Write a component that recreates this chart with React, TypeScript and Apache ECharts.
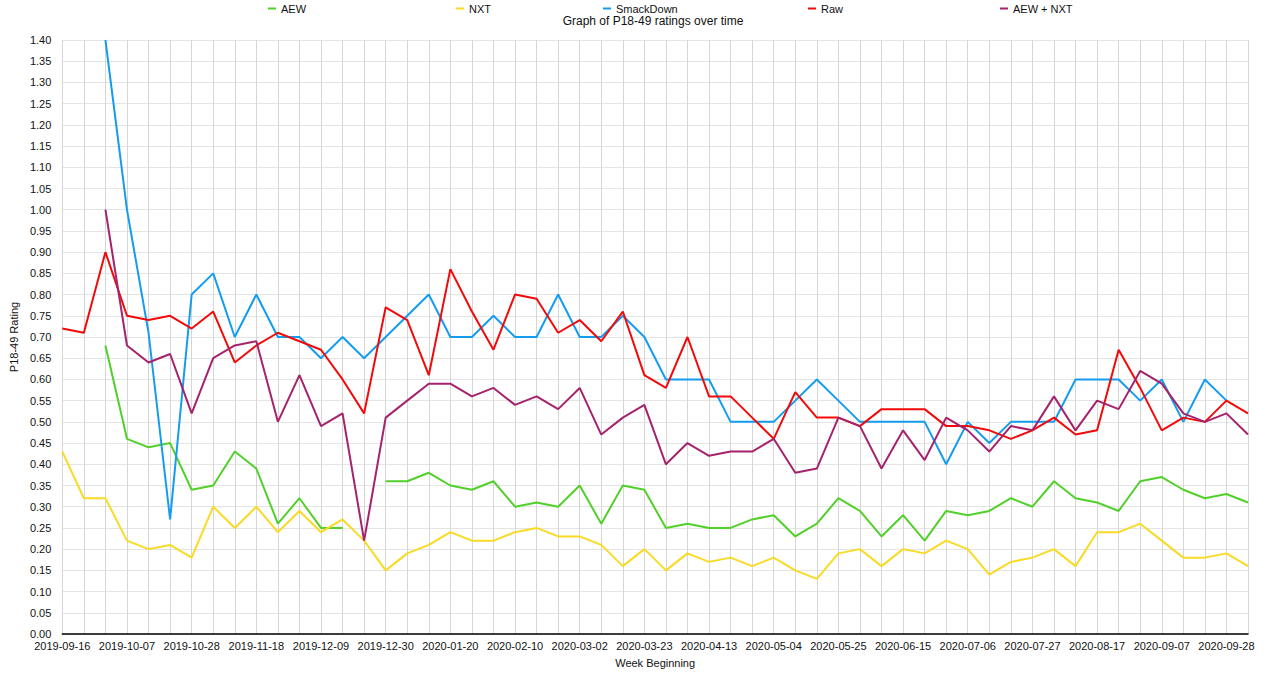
import React, { useEffect, useRef } from "react";
import * as echarts from "echarts";

const weeks = [
  "2019-09-16", "2019-09-23", "2019-09-30", "2019-10-07", "2019-10-14", "2019-10-21", "2019-10-28",
  "2019-11-04", "2019-11-11", "2019-11-18", "2019-11-25", "2019-12-02", "2019-12-09", "2019-12-16",
  "2019-12-23", "2019-12-30", "2020-01-06", "2020-01-13", "2020-01-20", "2020-01-27", "2020-02-03",
  "2020-02-10", "2020-02-17", "2020-02-24", "2020-03-02", "2020-03-09", "2020-03-16", "2020-03-23",
  "2020-03-30", "2020-04-06", "2020-04-13", "2020-04-20", "2020-04-27", "2020-05-04", "2020-05-11",
  "2020-05-18", "2020-05-25", "2020-06-01", "2020-06-08", "2020-06-15", "2020-06-22", "2020-06-29",
  "2020-07-06", "2020-07-13", "2020-07-20", "2020-07-27", "2020-08-03", "2020-08-10", "2020-08-17",
  "2020-08-24", "2020-08-31", "2020-09-07", "2020-09-14", "2020-09-21", "2020-09-28", "2020-10-05",
];

const aew = [
  null, null, 0.68, 0.46, 0.44, 0.45, 0.34, 0.35, 0.43, 0.39,
  0.26, 0.32, 0.25, 0.25, null, 0.36, 0.36, 0.38, 0.35, 0.34,
  0.36, 0.30, 0.31, 0.30, 0.35, 0.26, 0.35, 0.34, 0.25, 0.26,
  0.25, 0.25, 0.27, 0.28, 0.23, 0.26, 0.32, 0.29, 0.23, 0.28,
  0.22, 0.29, 0.28, 0.29, 0.32, 0.30, 0.36, 0.32, 0.31, 0.29,
  0.36, 0.37, 0.34, 0.32, 0.33, 0.31,
];

const nxt = [
  0.43, 0.32, 0.32, 0.22, 0.20, 0.21, 0.18, 0.30, 0.25, 0.30,
  0.24, 0.29, 0.24, 0.27, 0.22, 0.15, 0.19, 0.21, 0.24, 0.22,
  0.22, 0.24, 0.25, 0.23, 0.23, 0.21, 0.16, 0.20, 0.15, 0.19,
  0.17, 0.18, 0.16, 0.18, 0.15, 0.13, 0.19, 0.20, 0.16, 0.20,
  0.19, 0.22, 0.20, 0.14, 0.17, 0.18, 0.20, 0.16, 0.24, 0.24,
  0.26, 0.22, 0.18, 0.18, 0.19, 0.16,
];

const smackdown = [
  null, null, 1.40, 1.00, 0.71, 0.27, 0.80, 0.85, 0.70, 0.80,
  0.70, 0.70, 0.65, 0.70, 0.65, 0.70, 0.75, 0.80, 0.70, 0.70,
  0.75, 0.70, 0.70, 0.80, 0.70, 0.70, 0.75, 0.70, 0.60, 0.60,
  0.60, 0.50, 0.50, 0.50, 0.55, 0.60, 0.55, 0.50, 0.50, 0.50,
  0.50, 0.40, 0.50, 0.45, 0.50, 0.50, 0.50, 0.60, 0.60, 0.60,
  0.55, 0.60, 0.50, 0.60, 0.55, null,
];

const raw = [
  0.72, 0.71, 0.90, 0.75, 0.74, 0.75, 0.72, 0.76, 0.64, 0.68,
  0.71, 0.69, 0.67, 0.60, 0.52, 0.77, 0.74, 0.61, 0.86, 0.76,
  0.67, 0.80, 0.79, 0.71, 0.74, 0.69, 0.76, 0.61, 0.58, 0.70,
  0.56, 0.56, 0.51, 0.46, 0.57, 0.51, 0.51, 0.49, 0.53, 0.53,
  0.53, 0.49, 0.49, 0.48, 0.46, 0.48, 0.51, 0.47, 0.48, 0.67,
  0.58, 0.48, 0.51, 0.50, 0.55, 0.52,
];

const aewPlusNxt = [
  null, null, 1.00, 0.68, 0.64, 0.66, 0.52, 0.65, 0.68, 0.69,
  0.50, 0.61, 0.49, 0.52, 0.22, 0.51, 0.55, 0.59, 0.59, 0.56,
  0.58, 0.54, 0.56, 0.53, 0.58, 0.47, 0.51, 0.54, 0.40, 0.45,
  0.42, 0.43, 0.43, 0.46, 0.38, 0.39, 0.51, 0.49, 0.39, 0.48,
  0.41, 0.51, 0.48, 0.43, 0.49, 0.48, 0.56, 0.48, 0.55, 0.53,
  0.62, 0.59, 0.52, 0.50, 0.52, 0.47,
];

const seriesNames = ["AEW", "NXT", "SmackDown", "Raw", "AEW + NXT"];
const seriesData = [aew, nxt, smackdown, raw, aewPlusNxt];
const seriesColors = ["#52d02a", "#f9da24", "#149cf0", "#f20a0a", "#a5236c"];
const legendLeft = [268, 456, 603, 808, 1000];

const FONT = "'Liberation Sans', Arial, Helvetica, sans-serif";

export default function App() {
  const ref = useRef<HTMLDivElement>(null);

  useEffect(() => {
    document.body.style.margin = "0";
    const chart = echarts.init(ref.current!, null, { renderer: "svg" });
    chart.setOption({
      animation: false,
      backgroundColor: "#ffffff",
      textStyle: { fontFamily: FONT },
      title: {
        text: "Graph of P18-49 ratings over time",
        left: 653,
        textAlign: "center",
        top: 15,
        padding: 0,
        textStyle: { fontSize: 12, fontWeight: "normal", color: "#111", fontFamily: FONT },
      },
      legend: seriesNames.map((n, i) => ({
        data: [n],
        left: legendLeft[i],
        top: 3,
        padding: 0,
        icon: "rect",
        itemWidth: 8,
        itemHeight: 2,
        itemGap: 0,
        textStyle: { fontSize: 11, color: "#111", fontFamily: FONT },
      })),
      grid: { left: 58, right: 31, top: 40, bottom: 53, containLabel: false },
      xAxis: {
        type: "category",
        data: weeks,
        boundaryGap: false,
        name: "Week Beginning",
        nameLocation: "middle",
        nameGap: 23,
        nameTextStyle: { fontSize: 11, color: "#111", fontFamily: FONT },
        axisLine: { show: true, lineStyle: { color: "#000", width: 1.5 } },
        axisTick: { show: false },
        axisLabel: { interval: 2, fontSize: 11, color: "#111", margin: 6, fontFamily: FONT },
        splitLine: { show: true, interval: 0, lineStyle: { color: "#d6d6d6", width: 1 } },
      },
      yAxis: {
        type: "value",
        min: 0,
        max: 1.4,
        interval: 0.05,
        name: "P18-49 Rating",
        nameLocation: "middle",
        nameGap: 36,
        nameTextStyle: { fontSize: 11, color: "#111", fontFamily: FONT },
        axisLine: { show: false },
        axisTick: { show: false },
        axisLabel: {
          fontSize: 11,
          color: "#111",
          margin: 11,
          fontFamily: FONT,
          formatter: (v: number) => v.toFixed(2),
        },
        splitLine: { show: true, lineStyle: { color: "#e4e4e4", width: 1 } },
      },
      series: seriesNames.map((n, i) => ({
        name: n,
        type: "line",
        data: seriesData[i],
        color: seriesColors[i],
        showSymbol: false,
        symbol: "none",
        connectNulls: false,
        lineStyle: { width: 2, color: seriesColors[i] },
      })),
    });
    return () => chart.dispose();
  }, []);

  return <div ref={ref} style={{ width: 1279, height: 687 }} />;
}
